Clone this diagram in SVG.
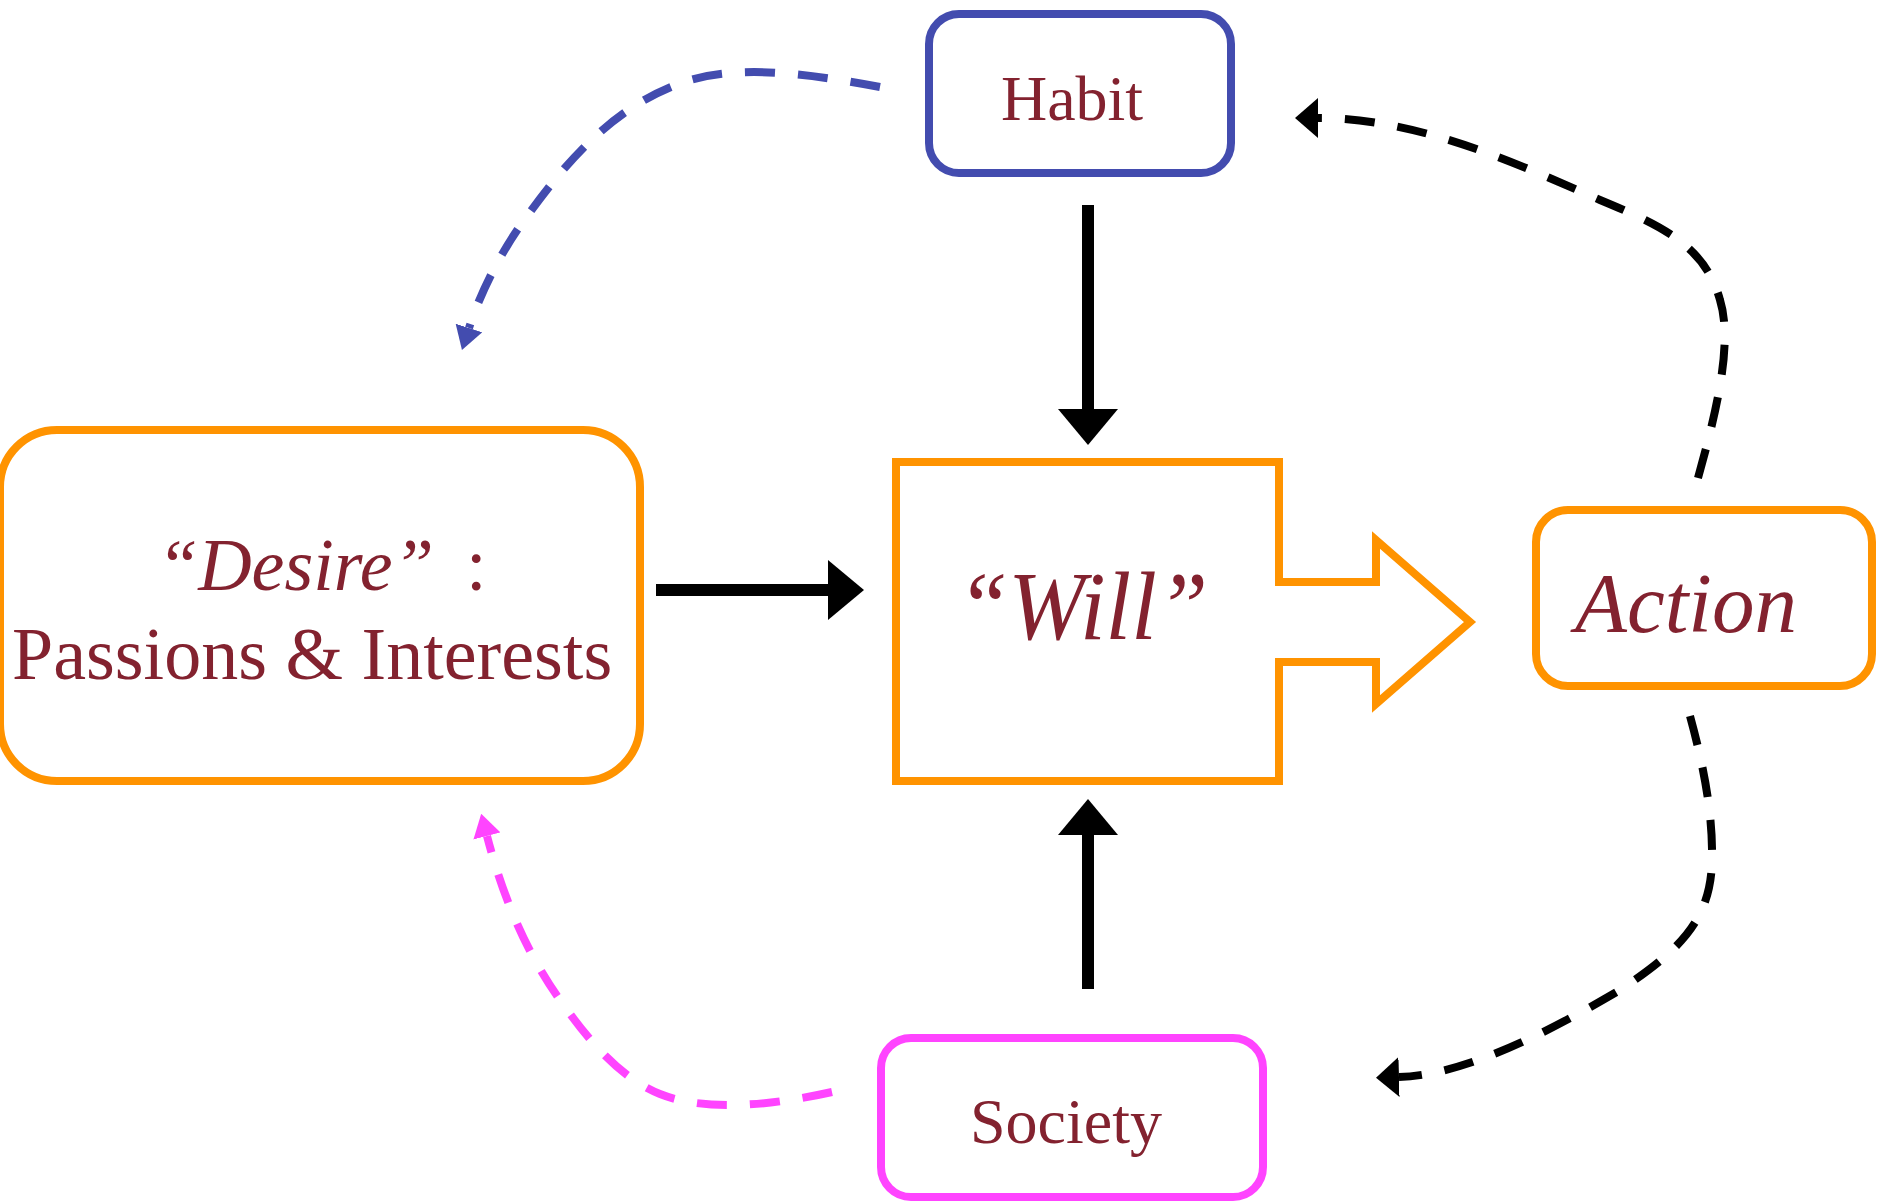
<svg xmlns="http://www.w3.org/2000/svg" width="1878" height="1201" viewBox="0 0 1878 1201">
<style>
.lbl{font-family:"Liberation Serif","Times New Roman",serif;fill:#83222F}
.it{font-style:italic}
.orange{fill:#fff;stroke:#FF9300;stroke-width:8}
.blue{fill:#fff;stroke:#434CAF;stroke-width:8}
.pink{fill:#fff;stroke:#FF44FF;stroke-width:8}
.solid{fill:none;stroke:#000;stroke-width:12}
.dash{fill:none;stroke-width:8;stroke-dasharray:30 23}
</style>
<defs>
<marker id="hSolid" markerUnits="userSpaceOnUse" markerWidth="36" markerHeight="60" viewBox="0 0 36 60" refX="0" refY="30" orient="auto"><path d="M0 0L36 30L0 60Z" fill="#000"/></marker>
<marker id="hBlack" markerUnits="userSpaceOnUse" markerWidth="23" markerHeight="40" viewBox="0 0 23 40" refX="0" refY="20" orient="auto"><path d="M0 0L23 20L0 40Z" fill="#000"/></marker>
<marker id="hBlue" markerUnits="userSpaceOnUse" markerWidth="23" markerHeight="28" viewBox="0 0 23 28" refX="0" refY="14" orient="auto"><path d="M0 0L23 14L0 28Z" fill="#434CAF"/></marker>
<marker id="hPink" markerUnits="userSpaceOnUse" markerWidth="23" markerHeight="28" viewBox="0 0 23 28" refX="0" refY="14" orient="auto"><path d="M0 0L23 14L0 28Z" fill="#FF44FF"/></marker>
</defs>
<rect width="1878" height="1201" fill="#fff"/>
<g id="connectors">
<path class="solid" d="M1088 205V409" marker-end="url(#hSolid)"/>
<path class="solid" d="M1088 989V835" marker-end="url(#hSolid)"/>
<path class="solid" d="M656 590H828" marker-end="url(#hSolid)"/>
<path class="dash" stroke="#000" d="M1698 478C1714 420 1734 345 1720 300C1705 245 1660 225 1600 200C1520 165 1420 118 1318 118" marker-end="url(#hBlack)"/>
<path class="dash" stroke="#000" d="M1690 716C1702 760 1713 810 1712 860C1711 920 1680 950 1620 990C1560 1025 1470 1075 1399 1077" marker-end="url(#hBlack)"/>
<path class="dash" stroke="#434CAF" stroke-dasharray="31 24" d="M880 87C800 72 740 66 690 80C610 105 560 170 520 226C495 262 478 300 469 328" marker-end="url(#hBlue)"/>
<path class="dash" stroke="#FF44FF" stroke-dasharray="30 26" d="M832 1092C760 1108 700 1110 660 1094C620 1078 588 1040 560 1000C530 958 505 905 487 836" marker-end="url(#hPink)"/>
</g>
<g id="habit">
<rect class="blue" x="929" y="14" width="302" height="159" rx="30"/>
<text class="lbl" x="1072" y="120" font-size="64" text-anchor="middle">Habit</text>
</g>
<g id="desire">
<rect class="orange" x="0" y="430" width="640" height="351" rx="57"/>
<text class="lbl" font-size="74" y="590"><tspan class="it" x="157">“Desire”</tspan><tspan x="466">:</tspan></text>
<text class="lbl" font-size="74" x="12" y="679">Passions &amp; Interests</text>
</g>
<g id="will">
<path class="orange" d="M896 462H1279V582H1376V540L1470 622L1376 704V662H1279V781H896Z"/>
<text class="lbl it" x="957" y="639" font-size="97" textLength="251" lengthAdjust="spacingAndGlyphs">“Will”</text>
</g>
<g id="action">
<rect class="orange" x="1536" y="510" width="336" height="176" rx="32"/>
<text class="lbl it" x="1575" y="632" font-size="85">Action</text>
</g>
<g id="society">
<rect class="pink" x="881" y="1038" width="382" height="159" rx="30"/>
<text class="lbl" x="1066" y="1143" font-size="64" text-anchor="middle">Society</text>
</g>
</svg>
